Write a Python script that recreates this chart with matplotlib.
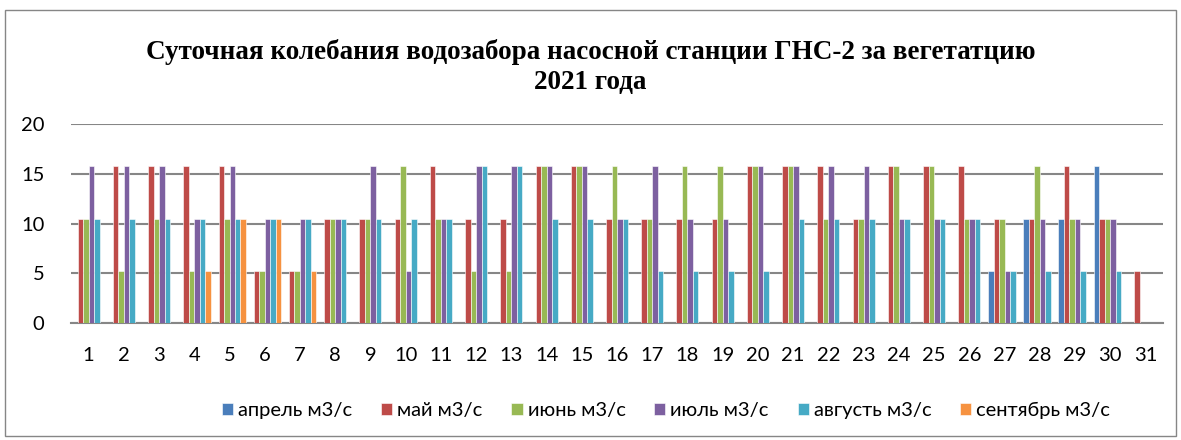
import numpy as np
import matplotlib.pyplot as plt
from matplotlib.patches import Rectangle

# levels: 0 -> 0, 1 -> 5.25, 2 -> 10.5, 3 -> 15.8 (m3/s)
days = [str(d) for d in range(1, 32)]
series_names = ['апрель м3/с', 'май м3/с', 'июнь м3/с', 'июль м3/с', 'августь м3/с', 'сентябрь м3/с']

april = [0, 0, 0, 0, 0, 0, 0, 0, 0, 0, 0, 0, 0, 0, 0, 0, 0, 0, 0, 0, 0, 0, 0, 0, 0, 0,
         5.25, 10.5, 10.5, 15.8, 0]
may = [10.5, 15.8, 15.8, 15.8, 15.8, 5.25, 5.25, 10.5, 10.5, 10.5, 15.8, 10.5, 10.5, 15.8, 15.8, 10.5,
       10.5, 10.5, 10.5, 15.8, 15.8, 15.8, 10.5, 15.8, 15.8, 15.8, 10.5, 10.5, 15.8, 10.5, 5.25]
june = [10.5, 5.25, 10.5, 5.25, 10.5, 5.25, 5.25, 10.5, 10.5, 15.8, 10.5, 5.25, 5.25, 15.8, 15.8, 15.8,
        10.5, 15.8, 15.8, 15.8, 15.8, 10.5, 10.5, 15.8, 15.8, 10.5, 10.5, 15.8, 10.5, 10.5, 0]
july = [15.8, 15.8, 15.8, 10.5, 15.8, 10.5, 10.5, 10.5, 15.8, 5.25, 10.5, 15.8, 15.8, 15.8, 15.8, 10.5,
        15.8, 10.5, 10.5, 15.8, 15.8, 15.8, 15.8, 10.5, 10.5, 10.5, 5.25, 10.5, 10.5, 10.5, 0]
august = [10.5, 10.5, 10.5, 10.5, 10.5, 10.5, 10.5, 10.5, 10.5, 10.5, 10.5, 15.8, 15.8, 10.5, 10.5, 10.5,
          5.25, 5.25, 5.25, 5.25, 10.5, 10.5, 10.5, 10.5, 10.5, 10.5, 5.25, 5.25, 5.25, 5.25, 0]
september = [0, 0, 0, 5.25, 10.5, 10.5, 5.25, 0, 0, 0, 0, 0, 0, 0, 0, 0,
             0, 0, 0, 0, 0, 0, 0, 0, 0, 0, 0, 0, 0, 0, 0]

colors = ['#4A7EBB', '#BE4B48', '#98B954', '#7D60A0', '#46AAC5', '#F69240']
data = [april, may, june, july, august, september]

plt.rcParams['font.family'] = ['Lato', 'DejaVu Sans']

fig = plt.figure(figsize=(11.81, 4.4), dpi=100)
ax = fig.add_axes([0.0601, 0.266, 0.9247, 0.452])

x = np.arange(len(days))
w = 0.156
for i, (vals, c, name) in enumerate(zip(data, colors, series_names)):
    ax.bar(x + (i - 2.5) * w, vals, w, color=c, edgecolor='white', linewidth=0.4, label=name, zorder=3)

ax.set_xlim(-0.5, len(days) - 0.5)
ax.set_ylim(0, 20)
ax.set_yticks([0, 5, 10, 15, 20])
ax.set_xticks(x)
ax.set_xticklabels(days)
ax.yaxis.grid(True, color='#868686', linewidth=1.5, zorder=0)
ax.tick_params(axis='both', length=0, labelsize=14.5, colors='black')
ax.tick_params(axis='y', pad=19)
ax.tick_params(axis='x', pad=17)
for s in ['top', 'right', 'left']:
    ax.spines[s].set_visible(False)
ax.spines['bottom'].set_color('#868686')
ax.spines['bottom'].set_linewidth(1.5)

fig.text(0.5, 0.848, 'Суточная колебания водозабора насосной станции ГНС-2 за вегетатцию\n2021 года',
         ha='center', va='center', fontsize=19.5, fontweight='bold', family='Liberation Serif',
         linespacing=1.25)

ax.legend(loc='center', bbox_to_anchor=(0.545, -0.44), ncol=6, frameon=False, fontsize=14.5,
          handlelength=0.55, handleheight=0.55, handletextpad=0.25, columnspacing=1.43)

fig.add_artist(Rectangle((0.004, 0.01), 0.992, 0.968, transform=fig.transFigure,
                         fill=False, edgecolor='#868686', linewidth=1))

fig.savefig('out.png', dpi=100)
